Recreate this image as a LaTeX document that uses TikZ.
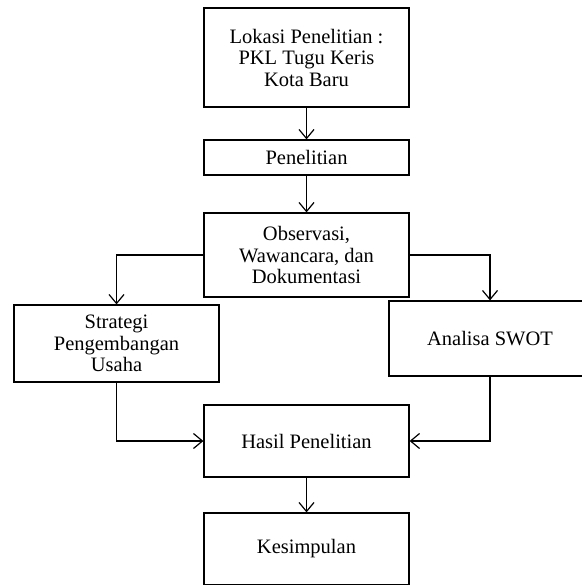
\documentclass[tikz,border=0pt]{standalone}
\usepackage{fontspec}
\setmainfont{Liberation Serif}
\usetikzlibrary{arrows.meta}

\begin{document}
\begin{tikzpicture}[x=1pt, y=-1pt]
    % Define display style
    \tikzstyle{box}=[draw, rectangle, line width=1.2pt, align=center, inner sep=0pt,
        font=\fontsize{20.5}{21.5}\selectfont]
    \tikzstyle{flow}=[-{Straight Barb[length=9pt, width=15pt, line width=1.2pt]}, line width=1.2pt]

    % Fix the page size
    \useasboundingbox (0, 0) rectangle (581, 585);

    % Draw the boxes
    \node[box, minimum width=205pt, minimum height=99pt] (lokasi) at (306.5, 57.5)
        {Lokasi Penelitian :\\PKL Tugu Keris\\Kota Baru};
    \node[box, minimum width=205pt, minimum height=35pt] (penelitian) at (306.5, 157.5)
        {Penelitian};
    \node[box, minimum width=205pt, minimum height=84pt] (observasi) at (306.5, 255)
        {Observasi,\\Wawancara, dan\\Dokumentasi};
    \node[box, minimum width=205pt, minimum height=77pt] (strategi) at (116.5, 343.5)
        {Strategi\\Pengembangan\\Usaha};
    \node[box, minimum width=202pt, minimum height=75pt] (swot) at (490, 338.5)
        {Analisa SWOT};
    \node[box, minimum width=205pt, minimum height=72pt] (hasil) at (306.5, 441)
        {Hasil Penelitian};
    \node[box, minimum width=205pt, minimum height=72pt] (kesimpulan) at (306.5, 549)
        {Kesimpulan};

    % Draw the connectors
    \draw[flow] (lokasi) -- (penelitian);
    \draw[flow] (penelitian) -- (observasi);
    \draw[flow] (observasi.west) -| (strategi.north);
    \draw[flow] (observasi.east) -| (swot.north);
    \draw[flow] (strategi.south) |- (hasil.west);
    \draw[flow] (swot.south) |- (hasil.east);
    \draw[flow] (hasil) -- (kesimpulan);
\end{tikzpicture}
\end{document}
